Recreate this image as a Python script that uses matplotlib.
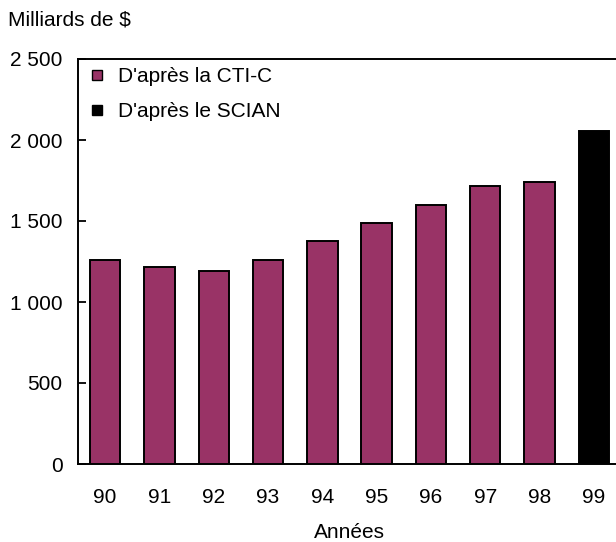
import matplotlib.pyplot as plt
import matplotlib.ticker as mticker

plt.rcParams['font.family'] = ['Liberation Sans', 'DejaVu Sans']

# données
annees = ['90', '91', '92', '93', '94', '95', '96', '97', '98', '99']
valeurs = [1260, 1215, 1190, 1260, 1375, 1487, 1597, 1717, 1742, 2055]
source = ['CTI-C'] * 9 + ['SCIAN']
couleurs = {'CTI-C': '#993366', 'SCIAN': '#000000'}
etiquettes = {'CTI-C': "D'après la CTI-C", 'SCIAN': "D'après le SCIAN"}

fs = 15

fig = plt.figure(figsize=(6.16, 5.42), dpi=100)
ax = fig.add_axes([78 / 616, 1 - 464 / 542, (621 - 78) / 616, (464 - 59) / 542])

x = list(range(len(annees)))
ax.bar(x, valeurs, width=0.56,
       color=[couleurs[s] for s in source],
       edgecolor='black', linewidth=1.4, zorder=3)

ax.set_xlim(-0.5, 9.5)
ax.set_ylim(0, 2500)
ax.set_yticks([0, 500, 1000, 1500, 2000, 2500])
ax.yaxis.set_major_formatter(mticker.FuncFormatter(
    lambda v, p: f'{int(v):,}'.replace(',', ' ')))
ax.set_xticks(x)
ax.set_xticklabels(annees)
ax.tick_params(axis='y', direction='in', length=6, width=1.3, labelsize=fs, pad=11)
ax.tick_params(axis='x', length=0, labelsize=fs, pad=17)

for sp in ax.spines.values():
    sp.set_linewidth(1.4)

ax.set_xlabel('Années', fontsize=fs, labelpad=12)
fig.text(8 / 616, 1 - 20 / 542, 'Milliards de $', fontsize=fs, va='center', ha='left')

# légende
poignees = [plt.Line2D([], [], marker='s', linestyle='none', markersize=7.5,
                       markerfacecolor=couleurs[k], markeredgecolor='black')
            for k in ['CTI-C', 'SCIAN']]
ax.legend(poignees, [etiquettes['CTI-C'], etiquettes['SCIAN']],
          loc='upper left', bbox_to_anchor=(0.0, 1.0), frameon=False,
          fontsize=fs, handlelength=1.0, handletextpad=0.5,
          labelspacing=0.75, borderpad=0.2, borderaxespad=0.2)

fig.savefig('out.png', dpi=100)
